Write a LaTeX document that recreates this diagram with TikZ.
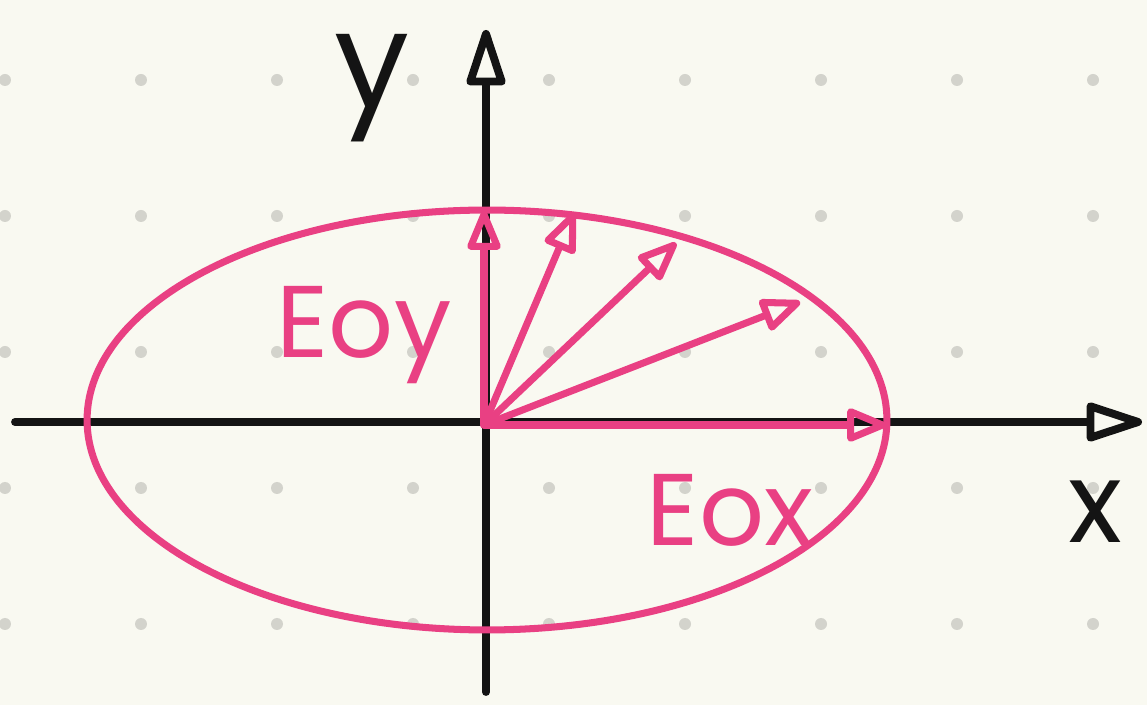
\documentclass[tikz,border=0pt]{standalone}
\usepackage{fontspec}
\setmainfont{Poppins}
\usetikzlibrary{arrows.meta}
\definecolor{paper}{HTML}{F9F9F1}
\definecolor{dotgray}{HTML}{D3D3CC}
\definecolor{inkblack}{HTML}{141414}
\definecolor{inkpink}{HTML}{E94083}
\tikzset{
  axis/.style={inkblack, line width=4.5pt, line cap=round, line join=round,
    -{Triangle[open, round, length=1.3cm, width=0.8cm]}},
  field/.style={inkpink, line width=4pt, line cap=round, line join=round,
    -{Triangle[open, round, length=0.9cm, width=0.7cm]}},
  pinklabel/.style={inkpink, font=\fontsize{58}{60}\selectfont},
  blacklabel/.style={inkblack, font=\fontsize{76}{78}\selectfont}
}

\begin{document}
\begin{tikzpicture}[x=0.02cm, y=-0.02cm]
  \fill[paper] (0,0) rectangle (1147,705);
  \useasboundingbox (0,0) rectangle (1147,705);
  \foreach \i in {0,...,8} { \foreach \j in {0,...,4} { \fill[dotgray] (5+136*\i, 80+136*\j) circle (0.12cm); } }
  \coordinate (O) at (484,425);
  \coordinate (xl) at (15,422);
  \coordinate (xr) at (1142,422);
  \coordinate (yb) at (486,692);
  \coordinate (yt) at (486,30);
  \draw[axis] (xl) -- (xr);
  \draw[axis] (yb) -- (yt);
  \draw[inkpink, line width=4pt] (487,420) ellipse [x radius=8cm, y radius=4.2cm];
  \coordinate (e0) at (886,425);
  \coordinate (e1) at (800,302);
  \coordinate (e2) at (676,243);
  \coordinate (e3) at (574,213);
  \coordinate (e4) at (484,211);
  \foreach \k in {0,...,4} { \draw[field] (O) -- (e\k); }
  \node[pinklabel] (eoy) at (364,335) {Eoy};
  \node[pinklabel] (eox) at (730,510) {Eox};
  \node[blacklabel] (ylab) at (372,88) {y};
  \node[blacklabel, font=\fontsize{64}{66}\selectfont] (xlab) at (1095,512) {x};
\end{tikzpicture}
\end{document}
